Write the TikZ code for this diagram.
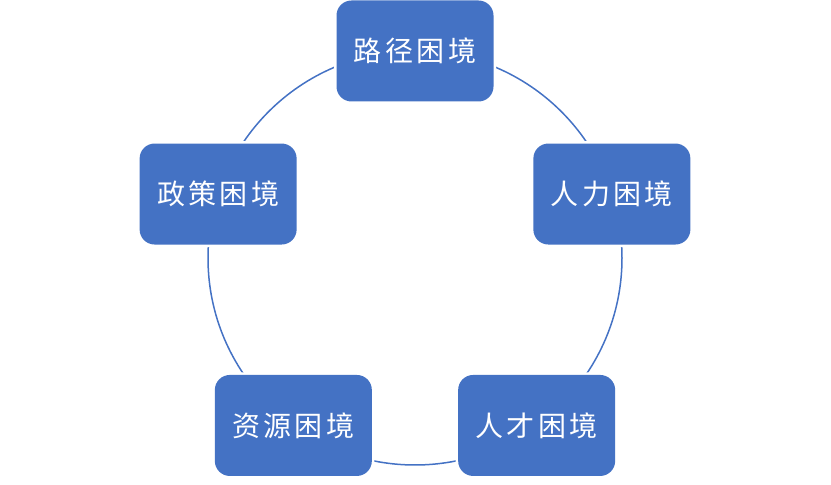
\documentclass[tikz,border=0pt]{standalone}
\usepackage{fontspec}
\usetikzlibrary{calc}
\newfontfamily\cjk[LetterSpace=12]{Noto Sans CJK SC}
\definecolor{boxblue}{HTML}{4472C4}
\begin{document}
\begin{tikzpicture}[x=1pt,y=1pt,
  stagebox/.style={rectangle, rounded corners=15pt, fill=boxblue,
    minimum width=157pt, minimum height=101pt, inner sep=0pt,
    preaction={draw=white, line width=5pt},
    text=white, font=\cjk\fontsize{28}{30}\selectfont},
  ring/.style={draw=boxblue, line width=1.5pt}]
\useasboundingbox (0,0) rectangle (831,485);
\coordinate (c) at (415,227);
\draw[ring] (c) circle[radius=207];
\node[stagebox] (lujing) at ($(c)+(90:207)$) {路径困境};
\node[stagebox] (renli) at ($(c)+(18:207)$) {人力困境};
\node[stagebox] (rencai) at ($(c)+(-54:207)$) {人才困境};
\node[stagebox] (ziyuan) at ($(c)+(-126:207)$) {资源困境};
\node[stagebox] (zhengce) at ($(c)+(162:207)$) {政策困境};
\end{tikzpicture}
\end{document}
